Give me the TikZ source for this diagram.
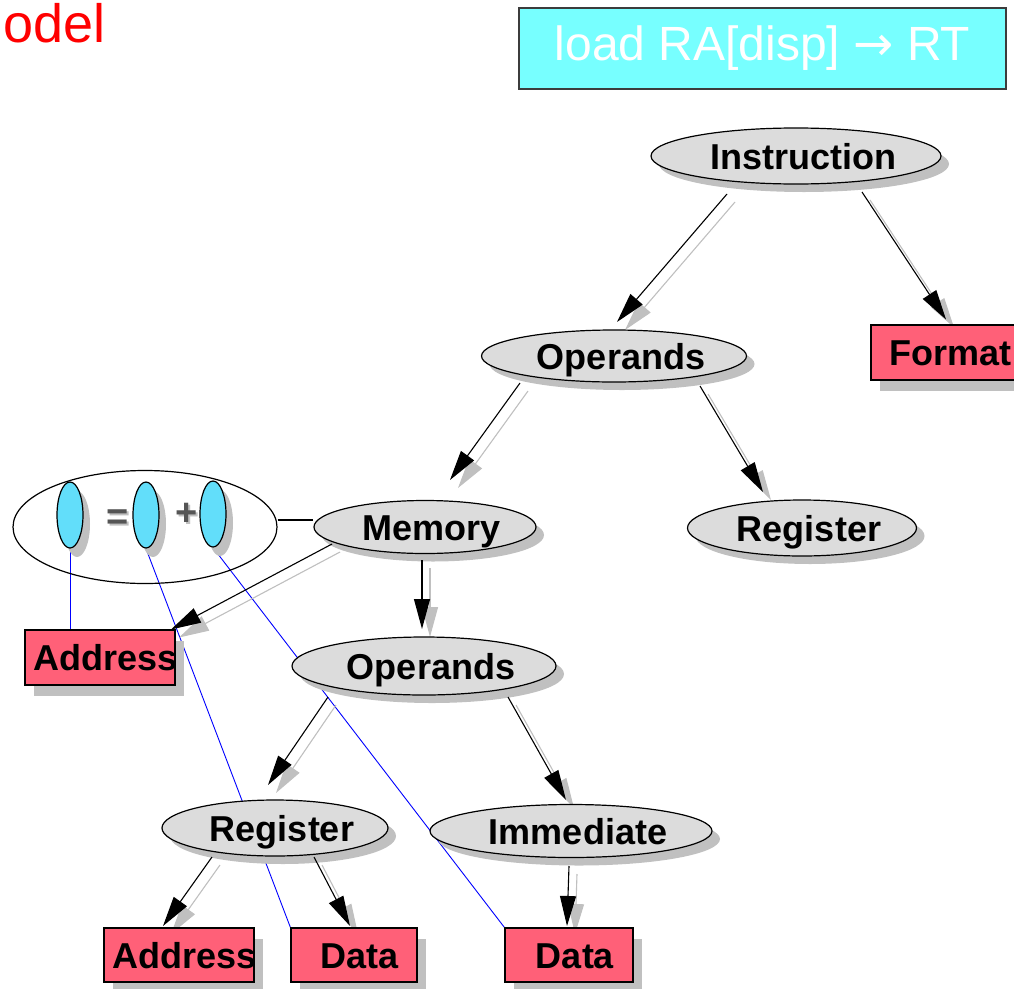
\documentclass[tikz,border=0pt]{standalone}
\usepackage{fontspec}
\setmainfont{Liberation Sans}
\newfontfamily\arrowfont{DejaVu Sans}
\usetikzlibrary{shapes.geometric,arrows.meta,calc,shadows}
\pgfdeclarelayer{back}
\pgfsetlayers{back,main}

\definecolor{nodegray}{RGB}{220,220,220}
\definecolor{shadegray}{RGB}{192,192,192}
\definecolor{boxred}{RGB}{255,96,120}
\definecolor{slotcyan}{RGB}{98,222,250}
\definecolor{titlecyan}{RGB}{119,255,255}
\definecolor{signgray}{RGB}{85,85,85}
\definecolor{framegray}{RGB}{60,60,60}

\tikzset{
  labelfont/.style={font=\bfseries\fontsize{36}{40}\selectfont},
  concept/.style={ellipse, draw=black, line width=1.2pt, fill=nodegray, inner sep=0pt,
    labelfont, text height=26pt, text depth=0pt,
    execute at begin node={\kern7pt}, execute at end node={\kern-7pt},
    general shadow={shadow xshift=8pt, shadow yshift=-8pt, fill=shadegray}},
  leaf/.style={rectangle, draw=black, line width=1.2pt, fill=boxred, inner sep=0pt,
    labelfont, text height=26pt, text depth=0pt,
    execute at begin node={\kern6pt}, execute at end node={\kern-6pt},
    general shadow={shadow xshift=9pt, shadow yshift=-11pt, fill=shadegray}},
  slot/.style={ellipse, draw=black, line width=1.2pt, fill=slotcyan, inner sep=0pt,
    minimum width=26pt, minimum height=66pt,
    general shadow={shadow xshift=7pt, shadow yshift=-9pt, fill=shadegray}},
  sign/.style={inner sep=0pt, anchor=base, font=\bfseries\fontsize{38}{40}\selectfont},
  arr/.style={line width=1.1pt, -{Triangle[length=30pt,width=16pt]}},
  arrsh/.style={line width=1.1pt, draw=shadegray, fill=shadegray,
    -{Triangle[length=30pt,width=16pt]}},
  link/.style={blue, line width=0.9pt},
}

% tree arrow with its offset grey shadow
\newcommand{\treearrow}[4]{%
  \begin{pgfonlayer}{back}
    \draw[arrsh] ($(#1.center)+#2+(8,8)$) -- ($(#3.center)+#4+(8,8)$);
  \end{pgfonlayer}
  \draw[arr] ($(#1.center)+#2$) -- ($(#3.center)+#4$);
}

\begin{document}
\begin{tikzpicture}[x=1pt,y=-1pt]
\useasboundingbox (0,0) rectangle (1014,988);

% heading and title box
\node[anchor=base west, inner sep=0pt, text=red, font=\fontsize{54}{60}\selectfont]
  (heading) at (3,42) {odel};
\node[rectangle, draw=framegray, line width=1.2pt, fill=titlecyan, inner sep=0pt,
  minimum width=487pt, minimum height=81pt, text=white,
  font=\fontsize{48}{52}\selectfont] (title) at (762.5,48.5)
  {load RA[disp] {\arrowfont →} RT};

% tree nodes
\node[concept, minimum width=290pt, minimum height=56pt] (inst) at (796,156) {Instruction};
\node[concept, minimum width=265pt, minimum height=52pt] (ops1) at (614,356) {Operands};
\node[leaf, minimum width=146pt, minimum height=55pt] (fmt) at (944,352.5) {Format};
\node[concept, minimum width=222pt, minimum height=53pt] (mem) at (425,527) {Memory};
\node[concept, minimum width=229pt, minimum height=56pt] (regR) at (802,528) {Register};
\node[leaf, minimum width=150pt, minimum height=55pt] (addr1) at (100,657.5) {Address};
\node[concept, minimum width=264pt, minimum height=58pt] (ops2) at (424,666) {Operands};
\node[concept, minimum width=226pt, minimum height=56pt] (regB) at (275,828) {Register};
\node[concept, minimum width=282pt, minimum height=53pt] (imm) at (571,831) {Immediate};
\node[leaf, minimum width=150pt, minimum height=54pt] (addr2) at (179,955) {Address};
\node[leaf, minimum width=126pt, minimum height=54pt] (data1) at (354,955) {Data};
\node[leaf, minimum width=128pt, minimum height=54pt] (data2) at (569,955) {Data};

% address formula: slot = slot + slot
\node[ellipse, draw=black, line width=1.2pt, inner sep=0pt,
  minimum width=264pt, minimum height=113pt] (big) at (145,527) {};
\node[slot] (c1) at (70,515) {};
\node[slot] (c2) at (146,515) {};
\node[slot] (c3) at (213,514) {};
\node[sign, text=shadegray] (eqsh) at (120,531) {=};
\node[sign, text=signgray] (eq) at (118,529) {=};
\node[sign, text=shadegray] (plsh) at (189,527) {+};
\node[sign, text=signgray] (pl) at (187,525) {+};

\draw[line width=1.2pt] ([yshift=7pt]big.east) -- ([yshift=7pt]mem.west);

% blue links from the formula slots to the leaves
\begin{pgfonlayer}{back}
  \draw[link] (c1.south) -- (c1.south |- addr1.north);
  \draw[link] (c2.south) -- (data1.north west);
  \draw[link] (c3.south) -- (data2.north west);
\end{pgfonlayer}

% tree edges
\treearrow{inst}{(-69,38)}{ops1}{(3,-34)}
\treearrow{inst}{(66,36)}{fmt}{(2,-33)}
\treearrow{ops1}{(-94,27)}{mem}{(25,-47)}
\treearrow{ops1}{(86,30)}{regR}{(-39,-36)}
\treearrow{mem}{(-93,17)}{addr1}{(71,-28)}
\treearrow{mem}{(-3,33)}{ops2}{(-2,-37)}
\treearrow{ops2}{(-96,31)}{regB}{(-7,-43)}
\treearrow{ops2}{(84,31)}{imm}{(-5,-31)}
\treearrow{regB}{(-63,29)}{addr2}{(-16,-29)}
\treearrow{regB}{(39,29)}{data1}{(-4,-29)}
\treearrow{imm}{(-2,35)}{data2}{(-2,-29)}
\end{tikzpicture}
\end{document}
